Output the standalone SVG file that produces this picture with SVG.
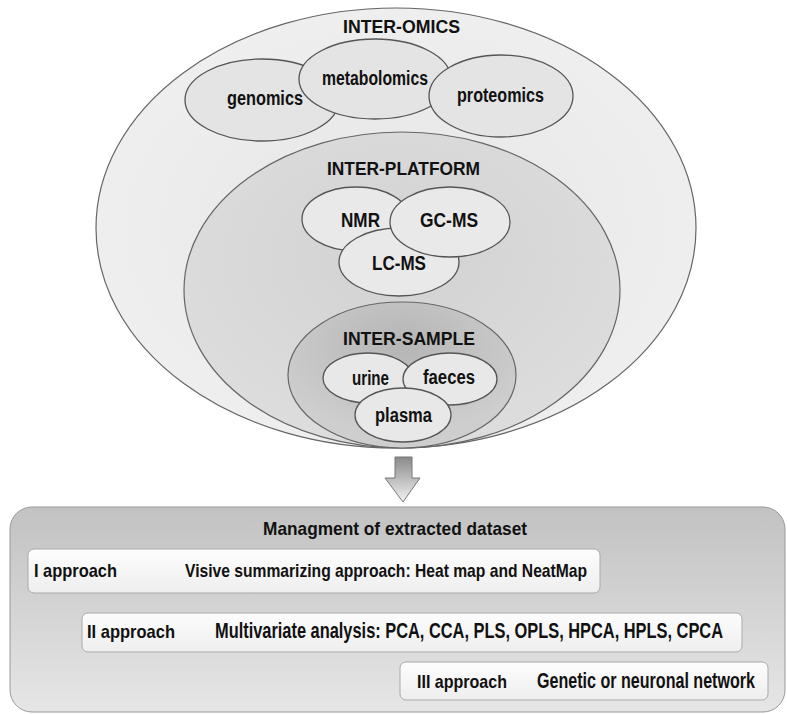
<svg xmlns="http://www.w3.org/2000/svg" width="787" height="714" viewBox="0 0 787 714">
<style>
.lbl{font-family:"Liberation Sans",Arial,sans-serif;font-weight:bold;font-size:20px;fill:#111}
.apr{font-family:"Liberation Sans",Arial,sans-serif;font-weight:bold;font-size:19px;fill:#111}
.ttl{font-family:"Liberation Sans",Arial,sans-serif;font-weight:bold;font-size:19px;fill:#111}
.big{stroke:#666;stroke-width:1.2}
.sm{stroke:#555;stroke-width:1.3}
.box{fill:url(#gBox);stroke:#aaa;stroke-width:1}
</style>
<defs>
<radialGradient id="gOuter" cx="0.5" cy="0.5" r="0.6">
<stop offset="0" stop-color="#e6e6e6"/><stop offset="1" stop-color="#f0f0f0"/>
</radialGradient>
<radialGradient id="gPlat" cx="0.5" cy="0.4" r="0.6">
<stop offset="0" stop-color="#d2d2d2"/><stop offset="1" stop-color="#dddddd"/>
</radialGradient>
<radialGradient id="gSamp" cx="0.5" cy="0.3" r="0.6">
<stop offset="0" stop-color="#b5b5b5"/><stop offset="1" stop-color="#cecece"/>
</radialGradient>
<linearGradient id="gPanel" x1="0" y1="0" x2="0" y2="1">
<stop offset="0" stop-color="#c2c2c2"/><stop offset="1" stop-color="#e6e6e6"/>
</linearGradient>
<linearGradient id="gBox" x1="0" y1="0" x2="0" y2="1">
<stop offset="0" stop-color="#fdfdfd"/><stop offset="1" stop-color="#eeeeee"/>
</linearGradient>
<linearGradient id="gArrow" x1="0" y1="0" x2="0" y2="1">
<stop offset="0" stop-color="#8a8a8a"/><stop offset="1" stop-color="#f2f2f2"/>
</linearGradient>
</defs>
<rect width="787" height="714" fill="#ffffff"/>

<g id="inter-omics">
<ellipse class="big" cx="396" cy="228" rx="300" ry="220" fill="url(#gOuter)"/>
<text class="ttl" x="343" y="33" textLength="117" lengthAdjust="spacingAndGlyphs">INTER-OMICS</text>
</g>
<g id="genomics">
<ellipse class="sm" cx="262" cy="100" rx="77" ry="41" fill="#e4e4e4"/>
<text class="lbl" x="227" y="105" textLength="76" lengthAdjust="spacingAndGlyphs">genomics</text>
</g>
<g id="metabolomics">
<ellipse class="sm" cx="375" cy="79" rx="76" ry="40" fill="#e4e4e4"/>
<text class="lbl" x="322" y="85" textLength="106" lengthAdjust="spacingAndGlyphs">metabolomics</text>
</g>
<g id="proteomics">
<ellipse class="sm" cx="501" cy="96" rx="72" ry="41" fill="#e4e4e4"/>
<text class="lbl" x="457" y="102" textLength="87" lengthAdjust="spacingAndGlyphs">proteomics</text>
</g>

<g id="inter-platform">
<ellipse class="big" cx="402" cy="290" rx="218" ry="158" fill="url(#gPlat)"/>
<text class="ttl" x="327" y="175" textLength="153" lengthAdjust="spacingAndGlyphs">INTER-PLATFORM</text>
</g>
<g id="nmr">
<ellipse class="sm" cx="356" cy="219" rx="54" ry="32" fill="#e9e9e9"/>
<text class="lbl" x="341" y="227" textLength="39" lengthAdjust="spacingAndGlyphs">NMR</text>
</g>
<g id="lc-ms">
<ellipse class="sm" cx="399" cy="262" rx="60" ry="34" fill="#e9e9e9"/>
<text class="lbl" x="372" y="270" textLength="54" lengthAdjust="spacingAndGlyphs">LC-MS</text>
</g>
<g id="gc-ms">
<ellipse class="sm" cx="450" cy="222" rx="60" ry="35" fill="#e9e9e9"/>
<text class="lbl" x="420" y="227" textLength="58" lengthAdjust="spacingAndGlyphs">GC-MS</text>
</g>

<g id="inter-sample">
<ellipse class="big" cx="402" cy="375" rx="114" ry="73" fill="url(#gSamp)"/>
<text class="ttl" x="343" y="345" textLength="132" lengthAdjust="spacingAndGlyphs">INTER-SAMPLE</text>
</g>
<g id="urine">
<ellipse class="sm" cx="368" cy="378" rx="45" ry="25" fill="#e8e8e8"/>
<text class="lbl" x="352" y="385" textLength="37" lengthAdjust="spacingAndGlyphs">urine</text>
</g>
<g id="faeces">
<ellipse class="sm" cx="450" cy="379" rx="47" ry="26" fill="#e8e8e8"/>
<text class="lbl" x="423" y="384" textLength="52" lengthAdjust="spacingAndGlyphs">faeces</text>
</g>
<g id="plasma">
<ellipse class="sm" cx="403" cy="415" rx="48" ry="27" fill="#e8e8e8"/>
<text class="lbl" x="375" y="422" textLength="57" lengthAdjust="spacingAndGlyphs">plasma</text>
</g>

<g id="connectors">
<path d="M395,457 H412 V478 H420 L403,502 L385,478 H395 Z" fill="url(#gArrow)" stroke="#777" stroke-width="1"/>
</g>

<g id="panel">
<rect x="10" y="507" width="775" height="205" rx="22" fill="url(#gPanel)" stroke="#999" stroke-width="1"/>
<text class="ttl" x="263" y="535" font-size="17" textLength="264" lengthAdjust="spacingAndGlyphs">Managment of extracted dataset</text>
</g>
<g id="approach-1">
<rect class="box" x="28" y="549" width="572" height="44" rx="6"/>
<text class="apr" x="34" y="577" textLength="83" lengthAdjust="spacingAndGlyphs">I approach</text>
<text class="apr" x="185" y="577" textLength="402" lengthAdjust="spacingAndGlyphs">Visive summarizing approach: Heat map and NeatMap</text>
</g>
<g id="approach-2">
<rect class="box" x="82" y="613" width="660" height="39" rx="6"/>
<text class="apr" x="87" y="638" textLength="88" lengthAdjust="spacingAndGlyphs">II approach</text>
<text class="apr" font-size="16" x="215" y="638" textLength="508" lengthAdjust="spacingAndGlyphs" transform="translate(215,638) scale(1,1.15) translate(-215,-638)">Multivariate analysis: PCA, CCA, PLS, OPLS, HPCA, HPLS, CPCA</text>
</g>
<g id="approach-3">
<rect class="box" x="400" y="662" width="368" height="38" rx="6"/>
<text class="apr" x="417" y="688" textLength="90" lengthAdjust="spacingAndGlyphs">III approach</text>
<text class="apr" font-size="16" x="537" y="688" textLength="218" lengthAdjust="spacingAndGlyphs" transform="translate(537,688) scale(1,1.15) translate(-537,-688)">Genetic or neuronal network</text>
</g>
</svg>
